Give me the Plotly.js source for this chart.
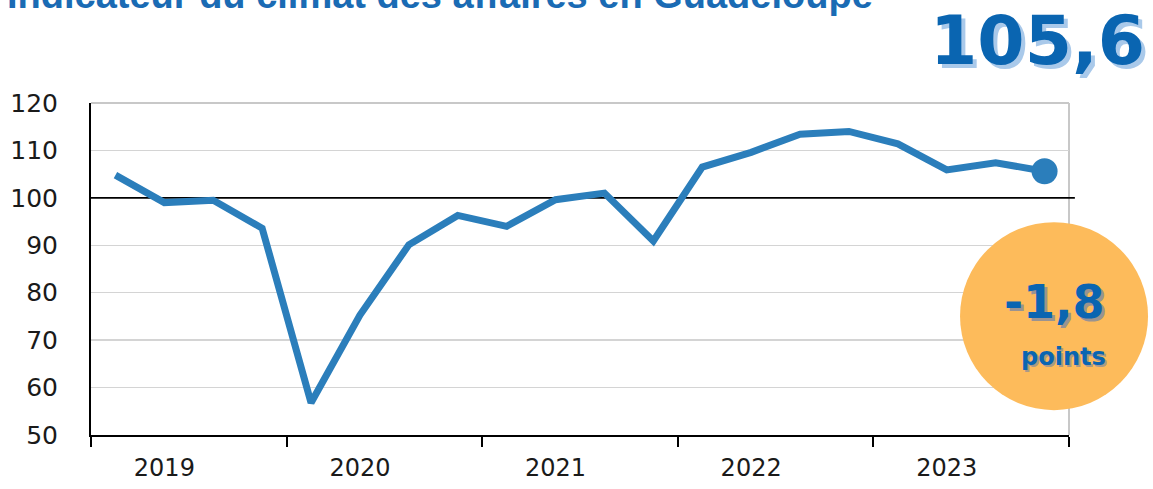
<!DOCTYPE html>
<html>
<head>
<meta charset="utf-8">
<script src="https://cdn.plot.ly/plotly-3.0.1.min.js"></script>
<style>html,body{margin:0;padding:0;background:#fff;}#chart{width:1153px;height:489px;}</style>
</head>
<body>
<div id="chart"></div>
<script>
// Data
const quarters = ["2019T1","2019T2","2019T3","2019T4","2020T1","2020T2","2020T3","2020T4","2021T1","2021T2","2021T3","2021T4","2022T1","2022T2","2022T3","2022T4","2023T1","2023T2","2023T3","2023T4"];
const values = [104.8, 99.0, 99.5, 93.6, 56.8, 75.3, 90.1, 96.3, 94.0, 99.6, 101.0, 90.9, 106.5, 109.6, 113.4, 114.0, 111.4, 105.9, 107.4, 105.6];
const yearLabels = ["2019","2020","2021","2022","2023"];
const yearLabelPos = [1, 5, 9, 13, 17];
const yearBounds = [-0.5, 3.5, 7.5, 11.5, 15.5, 19.5];
const yTicks = [50, 60, 70, 80, 90, 100, 110, 120];
const titleText = "Indicateur du climat des affaires en Guadeloupe";
const lastValueText = "105,6";
const changeText = "-1,8";
const changeUnit = "points";
const refLevel = 100;

const xs = values.map((v, i) => i);
const lastI = values.length - 1;
const gridVals = yTicks.filter(v => v !== refLevel && v !== yTicks[0] && v !== yTicks[yTicks.length - 1]);

const traces = [
  {x: xs, y: values, type: 'scatter', mode: 'lines', text: quarters,
   line: {color: '#2B7EBB', width: 7}, hoverinfo: 'text+y'},
  {x: [xs[lastI]], y: [values[lastI]], type: 'scatter', mode: 'markers',
   marker: {color: '#2B7EBB', size: 26}, hoverinfo: 'y'}
];

const blue = '#0A65B1';
const layout = {
  width: 1153, height: 489,
  margin: {l: 91, r: 84, t: 103, b: 54},
  paper_bgcolor: '#fff', plot_bgcolor: '#fff',
  showlegend: false,
  xaxis: {
    range: [-0.5, 19.5], tickmode: 'array', tickvals: yearLabelPos, ticktext: yearLabels,
    ticks: '', showgrid: false, zeroline: false, showline: true, linecolor: '#000', linewidth: 2,
    tickfont: {family: 'DejaVu Sans', size: 24, color: '#1a1a1a'}, ticklabelstandoff: 10,
    minor: {tickmode: 'array', tickvals: yearBounds, ticks: 'outside', ticklen: 10, tickwidth: 2, tickcolor: '#000', showgrid: false}
  },
  yaxis: {
    range: [50, 120], tickmode: 'array', tickvals: yTicks, ticks: '',
    showgrid: false, zeroline: false,
    showline: true, linecolor: '#000', linewidth: 2,
    tickfont: {family: 'DejaVu Sans', size: 25, color: '#1a1a1a'}, ticklabelstandoff: 26,
    minor: {tickmode: 'array', tickvals: gridVals, ticks: '', showgrid: true, gridcolor: '#d4d4d4', gridwidth: 1.5}
  },
  shapes: [
    {type: 'line', xref: 'paper', yref: 'paper', x0: 0, x1: 1, y0: 1, y1: 1, line: {color: '#c8c8c8', width: 2}, layer: 'between'},
    {type: 'line', xref: 'paper', yref: 'paper', x0: 1, x1: 1, y0: 0, y1: 1, line: {color: '#c8c8c8', width: 2}, layer: 'between'},
    {type: 'line', xref: 'paper', yref: 'y', x0: 0, x1: 1.006, y0: refLevel, y1: refLevel, line: {color: '#000', width: 1.6}, layer: 'between'},
    {type: 'circle', xref: 'paper', yref: 'paper', xsizemode: 'pixel', ysizemode: 'pixel',
     xanchor: 0.9847, yanchor: 0.358, x0: -94, x1: 94, y0: -94, y1: 94,
     fillcolor: '#FDBB5B', line: {width: 0}, layer: 'above'}
  ],
  annotations: [
    {text: titleText, xref: 'paper', yref: 'paper', x: -0.0879, y: 1.325, xanchor: 'left', yanchor: 'middle',
     showarrow: false, font: {family: 'Liberation Sans', size: 38, weight: 'bold', color: '#1A6BB4'}},
    {text: lastValueText, xref: 'paper', yref: 'paper', x: 0.968, y: 1.189, xanchor: 'center', yanchor: 'middle',
     showarrow: false, font: {family: 'DejaVu Sans', size: 68, weight: 'bold', color: blue, shadow: '4px 4px 0px #A9C9EA'}},
    {text: changeText, xref: 'paper', yref: 'paper', x: 0.985, y: 0.40, xanchor: 'center', yanchor: 'middle',
     showarrow: false, font: {family: 'DejaVu Sans', size: 46, weight: 'bold', color: blue, shadow: '3px 3px 0px rgba(110,130,170,0.7)'}},
    {text: changeUnit, xref: 'paper', yref: 'paper', x: 0.994, y: 0.235, xanchor: 'center', yanchor: 'middle',
     showarrow: false, font: {family: 'DejaVu Sans', size: 24, weight: 'bold', color: blue, shadow: '2px 2px 0px rgba(110,130,170,0.6)'}}
  ]
};

Plotly.newPlot('chart', traces, layout, {displayModeBar: false, staticPlot: true});
</script>
</body>
</html>
